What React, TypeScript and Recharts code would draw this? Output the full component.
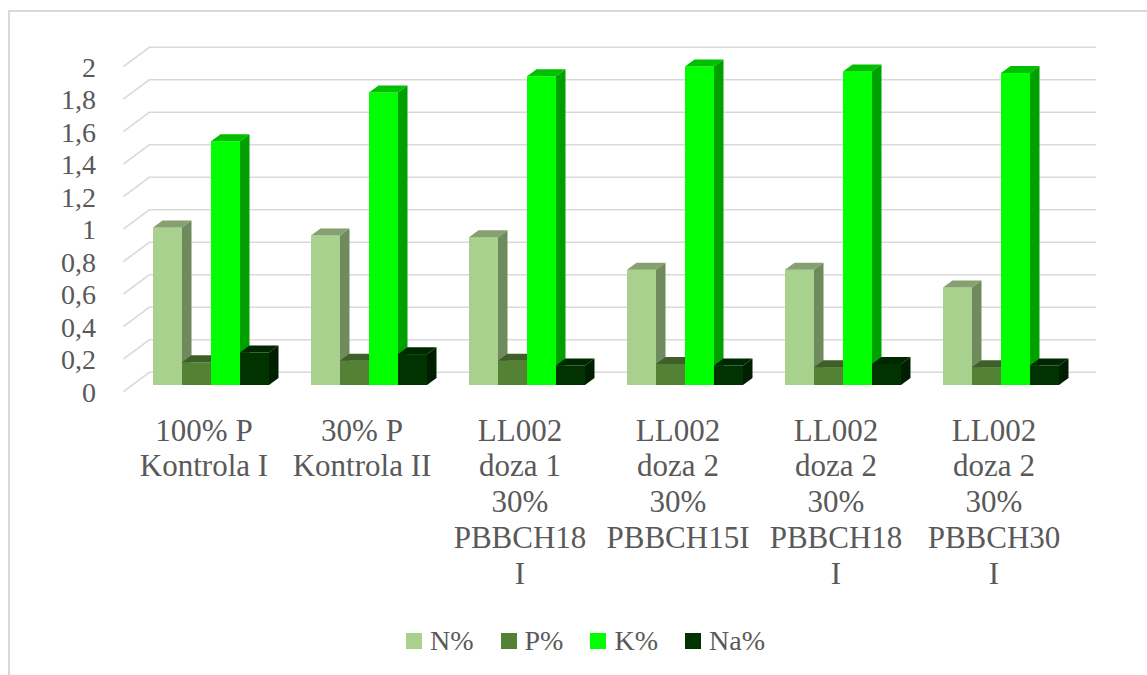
import { BarChart, Bar, XAxis, YAxis, CartesianGrid, Legend } from "recharts";

const categories = [
    "100% P\nKontrola I",
    "30% P\nKontrola II",
    "LL002\ndoza 1\n30%\nPBBCH18\nI",
    "LL002\ndoza 2\n30%\nPBBCH15I",
    "LL002\ndoza 2\n30%\nPBBCH18\nI",
    "LL002\ndoza 2\n30%\nPBBCH30\nI",
];
const nValues = [0.97, 0.92, 0.91, 0.71, 0.71, 0.6];
const pValues = [0.14, 0.15, 0.15, 0.13, 0.11, 0.11];
const kValues = [1.5, 1.8, 1.9, 1.96, 1.93, 1.92];
const naValues = [0.2, 0.19, 0.12, 0.12, 0.13, 0.12];
const yTicks = [0, 0.2, 0.4, 0.6, 0.8, 1, 1.2, 1.4, 1.6, 1.8, 2];

const data = categories.map((name, i) => ({
    name,
    N: nValues[i],
    P: pValues[i],
    K: kValues[i],
    Na: naValues[i],
}));

// front / top / side shades for the fake 3D boxes
const series = [
    { key: "N", label: "N%", front: "#a9d18e", top: "#86a070", side: "#6f8a5c" },
    { key: "P", label: "P%", front: "#548235", top: "#3e5f28", side: "#3a5a25" },
    { key: "K", label: "K%", front: "#00ff00", top: "#00c000", side: "#00a000" },
    { key: "Na", label: "Na%", front: "#003300", top: "#002800", side: "#001f00" },
];

const DX = 9.5;
const DY = 7;
const FONT = "'Liberation Serif', 'Times New Roman', serif";
const TEXT = "#595959";

const Box3D = (props: any) => {
    const { x, y, width: w, height: h, c } = props;
    if (w == null || h == null) return null;
    return (
        <g>
            <rect x={x} y={y} width={w} height={h} fill={c.front} />
            <polygon
                points={`${x},${y} ${x + DX},${y - DY} ${x + w + DX},${y - DY} ${x + w},${y}`}
                fill={c.top}
            />
            <polygon
                points={`${x + w},${y} ${x + w + DX},${y - DY} ${x + w + DX},${y + h - DY} ${x + w},${y + h}`}
                fill={c.side}
            />
        </g>
    );
};

const GridLine = (props: any) => {
    const { x1, y1, index } = props;
    const fx = x1 - 8.7;
    const fy = y1 + 6.7;
    const bx = x1 + 17.3;
    const by = y1 - 12.7;
    return (
        <polyline
            key={`g-${index}`}
            points={`${fx},${fy} ${bx},${by} 1096,${by}`}
            fill="none"
            stroke="#d9d9d9"
            strokeWidth={1.5}
        />
    );
};

const YTick = (props: any) => {
    const { y, payload } = props;
    return (
        <text
            x={96}
            y={y + 7}
            textAnchor="end"
            dominantBaseline="central"
            fontFamily={FONT}
            fontSize={28}
            fill={TEXT}
        >
            {String(payload.value).replace(".", ",")}
        </text>
    );
};

const XTick = (props: any) => {
    const { x, payload } = props;
    const lines = String(payload.value).split("\n");
    return (
        <g>
            {lines.map((line, i) => (
                <text
                    key={i}
                    x={x - 7}
                    y={430 + i * 35.8}
                    textAnchor="middle"
                    dominantBaseline="central"
                    fontFamily={FONT}
                    fontSize={31}
                    fill={TEXT}
                >
                    {line}
                </text>
            ))}
        </g>
    );
};

const LegendBox = () => (
    <div
        style={{
            display: "flex",
            alignItems: "center",
            paddingLeft: 406,
            fontFamily: FONT,
            fontSize: 28,
            color: TEXT,
            lineHeight: "30px",
        }}
    >
        {series.map((s) => (
            <div key={s.key} style={{ display: "flex", alignItems: "center", marginRight: 27 }}>
                <span
                    style={{
                        display: "inline-block",
                        width: 16,
                        height: 16,
                        background: s.front,
                        marginRight: 8,
                    }}
                />
                <span>{s.label}</span>
            </div>
        ))}
    </div>
);

export default function App() {
    return (
        <div style={{ position: "absolute", left: 0, top: 0, width: 1147, height: 675, background: "#fff" }}>
            <div
                style={{
                    position: "absolute",
                    left: 8,
                    top: 10,
                    width: 1150,
                    height: 680,
                    border: "2px solid #d9d9d9",
                    boxSizing: "border-box",
                }}
            />
            <div style={{ position: "absolute", left: 0, top: 0 }}>
                <BarChart
                    width={1147}
                    height={675}
                    data={data}
                    margin={{ top: 60, right: 67, bottom: 260, left: 0 }}
                    barCategoryGap={21}
                    barGap={0}
                >
                    <CartesianGrid vertical={false} horizontal={GridLine} />
                    <XAxis
                        dataKey="name"
                        height={30}
                        axisLine={false}
                        tickLine={false}
                        interval={0}
                        tick={<XTick />}
                    />
                    <YAxis
                        width={132}
                        domain={[0, 2]}
                        ticks={yTicks}
                        axisLine={false}
                        tickLine={false}
                        tick={<YTick />}
                    />
                    {series.map((s) => (
                        <Bar
                            key={s.key}
                            dataKey={s.key}
                            name={s.label}
                            fill={s.front}
                            isAnimationActive={false}
                            shape={(p: any) => <Box3D {...p} c={s} />}
                        />
                    ))}
                    <Legend
                        layout="horizontal"
                        verticalAlign="middle"
                        align="center"
                        wrapperStyle={{ top: 626, left: 0, width: 1147 }}
                        content={<LegendBox />}
                    />
                </BarChart>
            </div>
        </div>
    );
}
